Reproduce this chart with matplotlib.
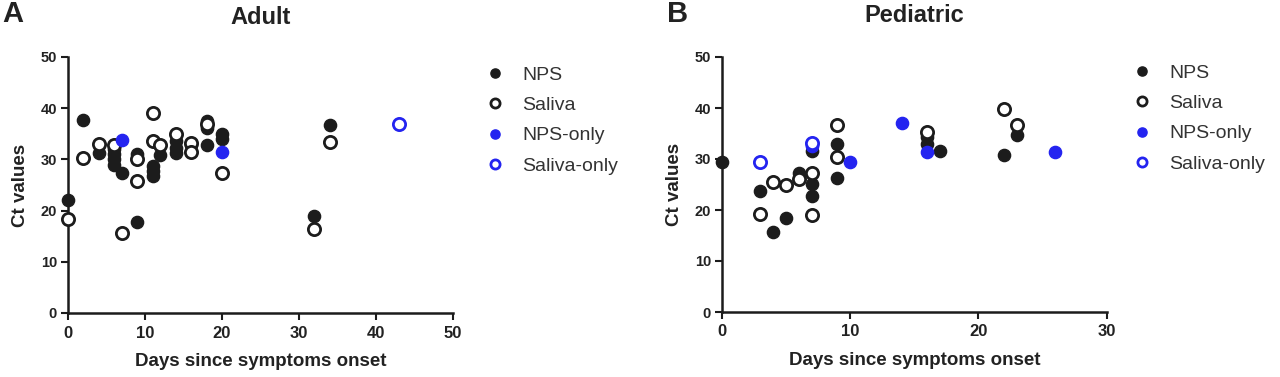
import matplotlib
matplotlib.use("Agg")
import matplotlib.pyplot as plt

plt.rcParams['font.family'] = ['Liberation Sans', 'DejaVu Sans']

# ---------------- data ----------------
adult_nps_x = [0, 2, 4, 6, 6, 6, 6, 7, 9, 9, 11, 11, 11, 12, 14, 14, 14, 16, 18, 18, 18, 20, 20, 32, 34]
adult_nps_y = [22, 37.7, 31.2, 32, 31, 30, 29, 27.3, 31, 17.7, 28.7, 27.7, 26.7, 30.8, 33.6, 32.3, 31.3, 32.8,
               37.5, 36.2, 32.9, 34.9, 33.9, 18.9, 36.8]
adult_sal_x = [0, 2, 4, 6, 7, 9, 9, 11, 11, 12, 14, 16, 16, 18, 20, 32, 34]
adult_sal_y = [18.4, 30.2, 33, 32.8, 15.7, 30, 25.7, 39, 33.6, 32.8, 34.9, 33.3, 31.5, 37, 27.4, 16.4, 33.4]
adult_npsonly_x = [7, 20]
adult_npsonly_y = [33.8, 31.4]
adult_salonly_x = [43]
adult_salonly_y = [37]

ped_nps_x = [0, 3, 4, 5, 6, 7, 7, 7, 9, 9, 16, 16, 17, 22, 23]
ped_nps_y = [29.5, 23.7, 15.6, 18.4, 27.2, 31.5, 25.1, 22.7, 33, 26.2, 34.4, 33, 31.6, 30.8, 34.7]
ped_sal_x = [3, 4, 5, 6, 7, 7, 9, 9, 16, 22, 23]
ped_sal_y = [19.2, 25.5, 25, 26, 27.3, 19, 36.7, 30.3, 35.3, 39.8, 36.7]
ped_npsonly_x = [7, 10, 14, 16, 26]
ped_npsonly_y = [32.6, 29.5, 37, 31.4, 31.4]
ped_salonly_x = [3, 7]
ped_salonly_y = [29.5, 33.2]

legend_labels = ["NPS", "Saliva", "NPS-only", "Saliva-only"]
x_ticks_adult = [0, 10, 20, 30, 40, 50]
x_ticks_ped = [0, 10, 20, 30]
y_ticks = [0, 10, 20, 30, 40, 50]

# ---------------- style ----------------
BLACK = '#1c1c1c'
BLUE = '#2424f0'
TXT = '#222222'
MS = 8.8
MEW = 2.0

fig = plt.figure(figsize=(12.8, 3.77), dpi=100)
W, H = 1280, 377


def ax_rect(x0, x1, ytop, ybot):
    return [x0 / W, 1 - ybot / H, (x1 - x0) / W, (ybot - ytop) / H]


def draw_panel(ax, nps, sal, npsonly, salonly, xmax, xticks):
    kw = dict(linestyle='none', marker='o', markersize=MS, clip_on=False, zorder=4)
    ax.plot(nps[0], nps[1], color=BLACK, markeredgecolor=BLACK, label=legend_labels[0], **kw)
    ax.plot(sal[0], sal[1], markerfacecolor='white', markeredgecolor=BLACK, markeredgewidth=MEW,
            label=legend_labels[1], **kw)
    ax.plot(npsonly[0], npsonly[1], color=BLUE, markeredgecolor=BLUE, label=legend_labels[2], **kw)
    ax.plot(salonly[0], salonly[1], markerfacecolor='white', markeredgecolor=BLUE, markeredgewidth=MEW,
            label=legend_labels[3], **kw)
    ax.set_xlim(0, xmax)
    ax.set_ylim(0, 50)
    ax.set_xticks(xticks)
    ax.set_yticks(y_ticks)
    for s in ['top', 'right']:
        ax.spines[s].set_visible(False)
    for s in ['left', 'bottom']:
        ax.spines[s].set_linewidth(1.8)
        ax.spines[s].set_color(BLACK)
    ax.tick_params(direction='out', length=5, width=1.5, colors=BLACK, labelcolor=TXT)
    ax.tick_params(axis='x', labelsize=12, pad=4)
    ax.tick_params(axis='y', labelsize=10.5, pad=3)
    for lab in ax.get_xticklabels() + ax.get_yticklabels():
        lab.set_fontweight('bold')
    ax.set_xlabel("Days since symptoms onset", fontsize=13.5, fontweight='bold', color=TXT, labelpad=9)
    ax.set_ylabel("Ct values", fontsize=13.5, fontweight='bold', color=TXT, labelpad=8)


axA = fig.add_axes(ax_rect(68, 453, 57, 313))
draw_panel(axA, (adult_nps_x, adult_nps_y), (adult_sal_x, adult_sal_y),
           (adult_npsonly_x, adult_npsonly_y), (adult_salonly_x, adult_salonly_y), 50, x_ticks_adult)

axB = fig.add_axes(ax_rect(722, 1106.7, 57, 312))
draw_panel(axB, (ped_nps_x, ped_nps_y), (ped_sal_x, ped_sal_y),
           (ped_npsonly_x, ped_npsonly_y), (ped_salonly_x, ped_salonly_y), 30, x_ticks_ped)

# titles and panel letters
fig.text(261 / W, 1 - 17 / H, "Adult", ha='center', va='center', fontsize=17, fontweight='bold', color=TXT)
fig.text(914 / W, 1 - 16 / H, "Pediatric", ha='center', va='center', fontsize=17, fontweight='bold', color=TXT)
fig.text(2 / W, 1 - 14 / H, "A", ha='left', va='center', fontsize=21, fontweight='bold', color=TXT)
fig.text(667 / W, 1 - 14 / H, "B", ha='left', va='center', fontsize=21, fontweight='bold', color=TXT)

# legends
for ax, (lx, ly) in [(axA, (487, 66)), (axB, (1134, 64))]:
    leg = ax.legend(loc='upper left', bbox_to_anchor=(lx / W, 1 - ly / H), bbox_transform=fig.transFigure,
                    frameon=False, fontsize=14, handlelength=0.8, handletextpad=1.0, labelspacing=0.66,
                    borderpad=0, borderaxespad=0, markerscale=0.75)
    for t in leg.get_texts():
        t.set_color('#333333')

fig.savefig("out.png", dpi=100)
